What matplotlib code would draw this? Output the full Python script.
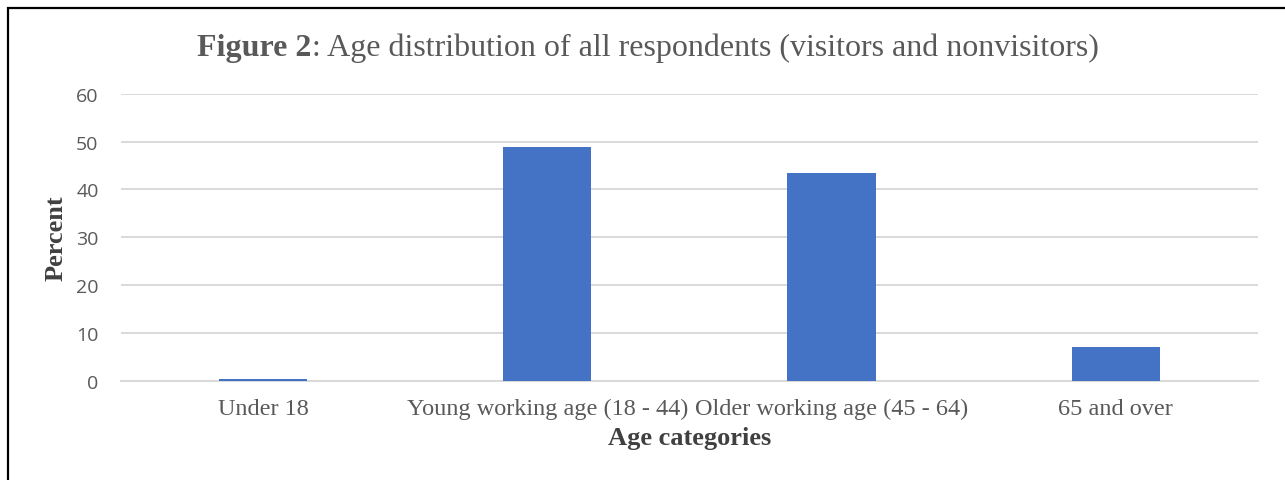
import matplotlib
matplotlib.use("Agg")
import matplotlib.pyplot as plt
from matplotlib.patches import Rectangle

categories = ["Under 18", "Young working age (18 - 44)", "Older working age (45 - 64)", "65 and over"]
percent = [0.4, 48.9, 43.5, 7.1]
y_ticks = [0, 10, 20, 30, 40, 50, 60]

SERIF = "Liberation Serif"

fig = plt.figure(figsize=(12.85, 4.81), dpi=100)
ax = fig.add_axes([0.094, 0.206, 0.885, 0.597])

x = range(len(categories))
ax.bar(x, percent, width=0.31, color="#4472c4", zorder=3)

ax.set_xlim(-0.5, len(categories) - 0.5)
ax.set_ylim(0, 60)
ax.set_yticks(y_ticks)
ax.set_yticklabels([str(t) for t in y_ticks], fontfamily="Open Sans", fontsize=14, color="#595959")
ax.set_xticks(list(x))
ax.set_xticklabels(categories, fontfamily=SERIF, fontsize=17.5, color="#595959")
ax.tick_params(axis="both", length=0)
ax.tick_params(axis="y", pad=16)
ax.tick_params(axis="x", pad=12)

ax.grid(axis="y", color="#d9d9d9", linewidth=1.4, zorder=0)
for s in ["top", "right", "left"]:
    ax.spines[s].set_visible(False)
ax.spines["bottom"].set_color("#d9d9d9")
ax.spines["bottom"].set_linewidth(1.4)

ax.set_xlabel("Age categories", fontfamily=SERIF, fontsize=19, fontweight="bold", color="#404040", labelpad=5)
ax.set_ylabel("Percent", fontfamily=SERIF, fontsize=19, fontweight="bold", color="#404040", labelpad=6)

# title with bold "Figure 2" prefix
fig.canvas.draw()
renderer = fig.canvas.get_renderer()
t1 = fig.text(0, 0.9, "Figure 2", fontfamily=SERIF, fontsize=23, fontweight="bold", color="#595959", va="center")
t2 = fig.text(0, 0.9, ": Age distribution of all respondents (visitors and nonvisitors)",
              fontfamily=SERIF, fontsize=23, color="#595959", va="center")
w1 = t1.get_window_extent(renderer).width
w2 = t2.get_window_extent(renderer).width
W = fig.bbox.width
start = (648 - (w1 + w2) / 2) / W
t1.set_x(start)
t2.set_x(start + w1 / W)

# outer frame (cut off at right and bottom)
fig.patches.append(Rectangle((8 / 1285, -0.1), 1.2, 1 - 9 / 481 + 0.1, transform=fig.transFigure,
                             fill=False, edgecolor="black", linewidth=1.6))

fig.savefig("out.png", dpi=100)
